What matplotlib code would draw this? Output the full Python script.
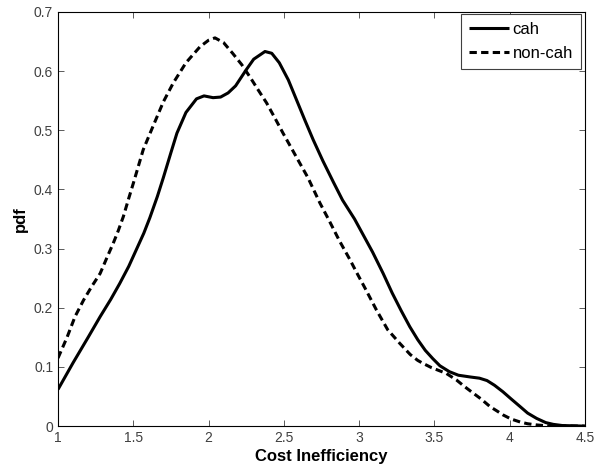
import matplotlib
matplotlib.use("Agg")
import matplotlib.pyplot as plt

plt.rcParams['font.family'] = ['Liberation Sans', 'DejaVu Sans']

# kernel density estimates of cost inefficiency
x_cah = [1.00, 1.10, 1.20, 1.28, 1.35, 1.41, 1.47, 1.52, 1.57, 1.61, 1.66, 1.70,
         1.75, 1.79, 1.85, 1.92, 1.97, 2.03, 2.08, 2.13, 2.18, 2.25, 2.30, 2.375,
         2.42, 2.47, 2.53, 2.585, 2.64, 2.695, 2.76, 2.83, 2.89, 2.97, 3.03, 3.09,
         3.16, 3.22, 3.28, 3.337, 3.39, 3.44, 3.49, 3.537, 3.60, 3.66, 3.74, 3.80,
         3.85, 3.90, 3.956, 4.01, 4.07, 4.12, 4.18, 4.24, 4.29, 4.35, 4.50]
y_cah = [0.062, 0.107, 0.150, 0.185, 0.214, 0.241, 0.270, 0.298, 0.326, 0.352, 0.388, 0.420,
         0.462, 0.495, 0.530, 0.553, 0.558, 0.555, 0.556, 0.563, 0.575, 0.602, 0.620, 0.633,
         0.630, 0.614, 0.585, 0.551, 0.517, 0.484, 0.448, 0.412, 0.382, 0.350, 0.322, 0.294,
         0.258, 0.225, 0.195, 0.168, 0.146, 0.128, 0.114, 0.102, 0.092, 0.086, 0.083, 0.081,
         0.077, 0.069, 0.058, 0.046, 0.033, 0.022, 0.013, 0.006, 0.003, 0.001, 0.0]

x_non = [1.00, 1.06, 1.113, 1.17, 1.224, 1.28, 1.334, 1.367, 1.40, 1.434, 1.47, 1.50,
         1.566, 1.63, 1.70, 1.766, 1.85, 1.943, 2.00, 2.043, 2.10, 2.16, 2.22, 2.275,
         2.33, 2.386, 2.44, 2.495, 2.55, 2.607, 2.66, 2.74, 2.80, 2.87, 2.94, 2.983,
         3.04, 3.116, 3.19, 3.27, 3.34, 3.39, 3.425, 3.48, 3.58, 3.647, 3.70, 3.757,
         3.81, 3.87, 3.92, 3.956, 4.01, 4.07, 4.12, 4.18, 4.25, 4.50]
y_non = [0.115, 0.150, 0.185, 0.213, 0.236, 0.258, 0.290, 0.309, 0.330, 0.354, 0.385, 0.410,
         0.467, 0.506, 0.548, 0.580, 0.614, 0.641, 0.652, 0.656, 0.648, 0.630, 0.611, 0.590,
         0.568, 0.546, 0.521, 0.495, 0.470, 0.444, 0.420, 0.377, 0.348, 0.313, 0.281, 0.260,
         0.233, 0.196, 0.163, 0.140, 0.121, 0.111, 0.106, 0.099, 0.089, 0.078, 0.067, 0.056,
         0.046, 0.033, 0.025, 0.019, 0.012, 0.007, 0.004, 0.002, 0.0005, 0.0]

xticks = [1, 1.5, 2, 2.5, 3, 3.5, 4, 4.5]
xticklabels = ['1', '1.5', '2', '2.5', '3', '3.5', '4', '4.5']
yticks = [0, 0.1, 0.2, 0.3, 0.4, 0.5, 0.6, 0.7]
yticklabels = ['0', '0.1', '0.2', '0.3', '0.4', '0.5', '0.6', '0.7']

fig = plt.figure(figsize=(5.98, 4.74), dpi=100)
ax = fig.add_axes([0.097, 0.101, 0.881, 0.874])

ax.plot(x_cah, y_cah, color='black', lw=2.2, solid_capstyle='butt',
        solid_joinstyle='round', label='cah')
ax.plot(x_non, y_non, color='black', lw=2.2, linestyle=(0, (2.4, 1.4)),
        dash_capstyle='butt', dash_joinstyle='round', label='non-cah')

ax.set_xlim(1, 4.5)
ax.set_ylim(0, 0.7)
ax.set_xticks(xticks)
ax.set_xticklabels(xticklabels)
ax.set_yticks(yticks)
ax.set_yticklabels(yticklabels)
ax.tick_params(direction='in', top=True, right=True, length=4, width=0.6,
               labelsize=10, labelcolor='#404040', color='#404040')
for s in ax.spines.values():
    s.set_linewidth(0.8)

ax.set_xlabel('Cost Inefficiency', fontsize=12, fontweight='bold', labelpad=3)
ax.set_ylabel('pdf', fontsize=12, fontweight='bold', labelpad=4)

leg = ax.legend(loc='upper right', bbox_to_anchor=(0.993, 0.995), borderaxespad=0,
                fontsize=12, handlelength=2.4, handletextpad=0.2, fancybox=False,
                framealpha=1, borderpad=0.5, labelspacing=0.5)
leg.get_frame().set_edgecolor('#404040')
leg.get_frame().set_linewidth(0.8)

fig.savefig('out.png', dpi=100)
